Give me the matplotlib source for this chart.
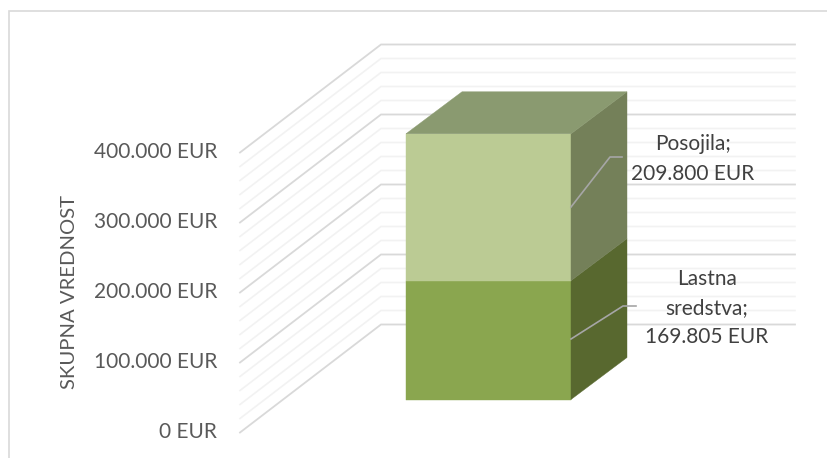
import matplotlib
matplotlib.use("Agg")
import matplotlib.pyplot as plt
from matplotlib.lines import Line2D
from matplotlib.patches import Polygon

plt.rcParams['font.family'] = ['Lato', 'DejaVu Sans']

# Data
series = ['Lastna sredstva', 'Posojila']
values = [169805, 209800]
value_labels = ['Lastna\nsredstva;\n169.805 EUR', 'Posojila;\n209.800 EUR']
ticks = [0, 100000, 200000, 300000, 400000]
tick_labels = ['0 EUR', '100.000 EUR', '200.000 EUR', '300.000 EUR', '400.000 EUR']
minor_step = 20000
axis_title = 'SKUPNA VREDNOST'

# Colours per series: front, side, top
front_cols = ['#8AA64F', '#BBCB94']
side_cols = ['#58682F', '#748059']
top_col = '#8A9A70'

W, H = 828, 458
px_per_val = 70 / 100000  # pixels per EUR on the vertical axis
floor_y = 432.5  # pixel row of value 0 on the front edge of the wall

# Oblique projection of the 3D box
wall_x0, wall_x1, wall_x2 = 240, 381, 795
wall_rise = 108 / px_per_val
bar_left, bar_right = 406, 571
bar_d0 = 33 / 108
bar_d1 = bar_d0 + 42 / 108
bar_dx = 56

fig = plt.figure(figsize=(W / 100, H / 100), dpi=100)
ax = fig.add_axes([0, 0, 1, 1])
ax.set_xlim(0, W)
ax.set_ylim(-(H - floor_y) / px_per_val, floor_y / px_per_val)
ax.axis('off')

# Outer chart frame: only the left and top edges are in the crop
frame_x = 9 / W
frame_y = 1 - 10.5 / H
fig.add_artist(Line2D([frame_x, frame_x, 1], [0, frame_y, frame_y], transform=fig.transFigure,
                      color='#D9D9D9', lw=1.2, solid_joinstyle='miter'))

# Gridlines on side wall and back wall
for v in range(0, max(ticks) + 1, minor_step):
    major = v in ticks
    col = '#D9D9D9' if major else '#F2F2F2'
    ax.plot([wall_x0, wall_x1, wall_x2], [v, v + wall_rise, v + wall_rise],
            color=col, lw=1.3 if major else 1.2, zorder=1, solid_joinstyle='miter')


def box_pt(x, v, depth):
    shift = (depth - bar_d0) / (bar_d1 - bar_d0) * bar_dx
    return (x + shift, v + depth * wall_rise)


# Stacked box
base = 0
for i, val in enumerate(values):
    top = base + val
    ax.add_patch(Polygon([box_pt(bar_left, base, bar_d0), box_pt(bar_right, base, bar_d0),
                          box_pt(bar_right, top, bar_d0), box_pt(bar_left, top, bar_d0)],
                         fc=front_cols[i], ec=front_cols[i], lw=0.3, zorder=3))
    ax.add_patch(Polygon([box_pt(bar_right, base, bar_d0), box_pt(bar_right, base, bar_d1),
                          box_pt(bar_right, top, bar_d1), box_pt(bar_right, top, bar_d0)],
                         fc=side_cols[i], ec=side_cols[i], lw=0.3, zorder=3))
    base = top
ax.add_patch(Polygon([box_pt(bar_left, base, bar_d0), box_pt(bar_right, base, bar_d0),
                      box_pt(bar_right, base, bar_d1), box_pt(bar_left, base, bar_d1)],
                     fc=top_col, ec=top_col, lw=0.3, zorder=3))

# Tick labels and axis title
for v, lab in zip(ticks, tick_labels):
    ax.text(217, v, lab, ha='right', va='center', fontsize=15, color='#595959')
ax.text(70, 201000, axis_title, rotation=90, ha='center', va='center',
        fontsize=14.6, color='#595959')

# Leader lines and data labels (pixel offsets from the side face)
ax.plot([571, 610, 622], [(floor_y - 207) / px_per_val, (floor_y - 157) / px_per_val,
                          (floor_y - 157) / px_per_val], color='#A6A6A6', lw=1.2, zorder=4)
ax.plot([571, 623, 636], [(floor_y - 339) / px_per_val, (floor_y - 306) / px_per_val,
                          (floor_y - 306) / px_per_val], color='#A6A6A6', lw=1.2, zorder=4)
ax.text(693, (floor_y - 159) / px_per_val, value_labels[1], ha='center', va='center',
        fontsize=15, color='#404040', linespacing=1.58, zorder=5)
ax.text(707, (floor_y - 308) / px_per_val, value_labels[0], ha='center', va='center',
        fontsize=15, color='#404040', linespacing=1.58, zorder=5)

fig.savefig('out.png', dpi=100)
